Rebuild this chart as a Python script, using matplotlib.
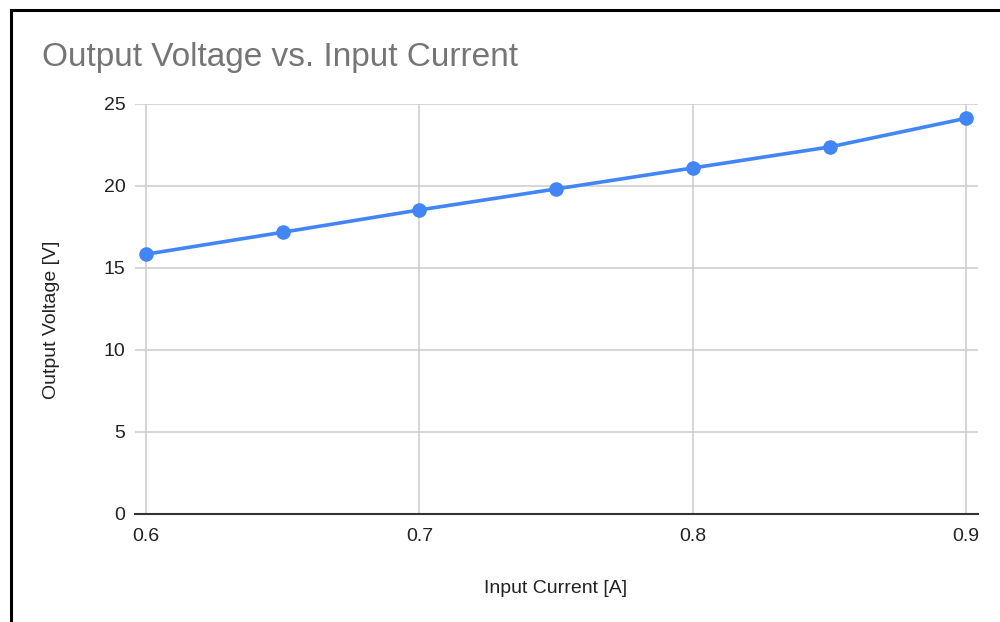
import matplotlib
matplotlib.use("Agg")
import matplotlib.pyplot as plt
from matplotlib.lines import Line2D

# data
current = [0.6, 0.65, 0.7, 0.75, 0.8, 0.85, 0.9]
voltage = [15.84, 17.18, 18.54, 19.82, 21.10, 22.38, 24.13]
x_ticks = [0.6, 0.7, 0.8, 0.9]
y_ticks = [0, 5, 10, 15, 20, 25]

plt.rcParams['font.family'] = ['Liberation Sans', 'DejaVu Sans']

fig = plt.figure(figsize=(10, 6.22), dpi=100)
W, H = 1000, 622
ax = fig.add_axes([135 / W, 1 - 514 / H, (978 - 135) / W, (514 - 104) / H])

ax.plot(current, voltage, color='#4285F4', lw=2.6, marker='o', markersize=10.5,
        markeredgewidth=0, clip_on=False, zorder=3)

ax.set_xlim(0.596, 0.9043)
ax.set_ylim(0, 25)
ax.set_xticks(x_ticks)
ax.set_xticklabels([str(v) for v in x_ticks])
ax.set_yticks(y_ticks)
ax.grid(True, color='#cccccc', lw=1.1)
ax.set_axisbelow(True)
for s in ['top', 'right', 'left']:
    ax.spines[s].set_visible(False)
ax.spines['bottom'].set_color('#333333')
ax.spines['bottom'].set_linewidth(1.5)
ax.spines['bottom'].set_zorder(2.5)
ax.tick_params(length=0, labelsize=14, labelcolor='#222222')
ax.tick_params(axis='x', pad=10)
ax.tick_params(axis='y', pad=7)

fig.text(42 / W, 1 - 66 / H, 'Output Voltage vs. Input Current', fontsize=24,
         color='#757575', ha='left', va='baseline')
fig.text(556 / W, 1 - 593 / H, 'Input Current [A]', fontsize=14,
         color='#222222', ha='center', va='baseline')
fig.text(52 / W, 1 - 320 / H, 'Output Voltage [V]', fontsize=14,
         color='#222222', ha='center', va='center', rotation=90)

# black frame around the screenshot (cut off at right and bottom)
fig.add_artist(Line2D([10.5 / W, 10.5 / W], [0, 1 - 9.5 / H], color='black', lw=2.2))
fig.add_artist(Line2D([10.5 / W, 1], [1 - 9.5 / H, 1 - 9.5 / H], color='black', lw=2.2))

fig.savefig('out.png', dpi=100)
